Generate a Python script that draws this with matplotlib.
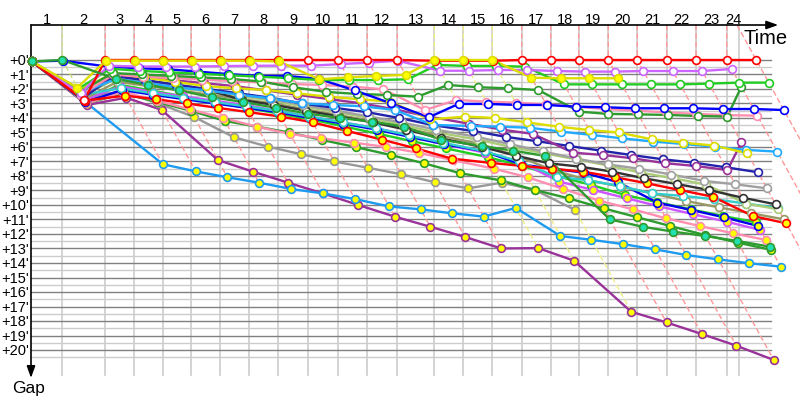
import numpy as np
import matplotlib
matplotlib.use("Agg")
import matplotlib.pyplot as plt

nan = np.nan

# ---------------- data ----------------
# leader's elapsed time at the end of each stage (index 0 = start), x units = minutes of gap
stage_time = [0, 3.91, 9.29, 12.91, 16.46, 20.04, 23.66, 27.29, 30.91, 34.66, 38.41,
              42.04, 45.79, 50.41, 54.04, 57.66, 61.34, 64.96, 68.46, 72.16, 75.79,
              79.46, 83.13, 86.96, 90.66]
grid_time = [3.91, 9.29, 12.91, 16.46, 20.04, 23.66, 27.29, 30.91, 34.66, 38.41,
             42.04, 45.79, 50.41, 54.04, 57.66, 61.34, 64.96, 68.46, 72.16, 75.79,
             79.46, 83.13, 86.96, 88.54]
stage_labels = [str(i) for i in range(1, 25)]
gap_labels = ["+%d'" % i for i in range(0, 21)]
# colour of the stage leader (guide line colour)
stage_leader = ['green'] + ['red'] * 11 + ['yellow'] * 3 + ['red'] * 9

# gap (minutes) of each rider after each stage
red     = [0.1, 2.76, 0, 0, 0, 0, 0, 0, 0, 0, 0, 0, 0, 0.05, 0.05, 0.05, 0, 0, 0, 0, 0, 0, 0, 0, 0]
yellow  = [0.1, 1.9, 0.05, 0.05, 0.05, 0.05, 0.05, 0.05, 0.1, 1.33, 1.2, 1.1, 1.03, 0, 0, 0,
           1.22, 1.26, 1.26, 1.26, nan, nan, nan, nan, nan]
violet  = [0.1, 2.3, 0.4, 0.45, 0.45, 0.45, 0.42, 0.4, 0.39, 0.39, 0.28, 0.18, 0.05, 0.74,
           0.74, 0.69, 0.69, 0.76, 0.8, 0.8, 0.76, 0.76, 0.76, 0.62, nan]
green   = [0.1, 2.0, 0.6, 0.75, 0.85, 0.95, 1.05, 1.15, 1.25, 1.38, 1.38, 1.38, 1.33, 0.34,
           0.41, 0.41, 0.46, 1.68, 1.68, 1.68, 1.68, 1.68, 1.63, 1.56, 1.56]
blue    = [0.1, 0.05, 0.46, 0.57, 0.64, 0.8, 0.97, 1.1, 1.1, 1.31, 2.1, 3.0, 3.95, 3.03, 3.03,
           3.1, 3.1, 3.22, 3.26, 3.33, 3.33, 3.33, 3.38, 3.38, 3.45]
dgreen  = [0.1, 2.2, 0.9, 1.0, 1.1, 1.2, 1.3, 1.49, 1.88, 2.2, 2.34, 2.41, 2.53, 1.72, 1.88,
           1.95, 2.07, 3.56, 3.72, 3.75, 3.79, 3.86, 3.9, 1.84, nan]
pink    = [0.1, 2.4, 1.0, 1.15, 1.25, 1.35, 1.45, 1.55, 1.66, 1.72, 1.84, 2.02, 3.45, 2.76,
           2.87, 2.94, 3.06, 3.22, 3.38, 3.5, 3.61, 3.72, 3.8, 3.84, nan]
yellow2 = [0.1, 2.1, 0.92, 1.2, 1.5, 1.8, 1.95, 2.07, 2.3, 2.53, 2.71, 2.87, 4.1, 3.9, 4.0,
           4.3, 4.6, 4.83, 5.0, 5.47, 5.7, 5.9, 6.43, nan, nan]
lblue   = [0.1, 2.3, 1.3, 1.6, 1.9, 2.1, 2.4, 2.64, 2.99, 3.1, 3.2, 3.45, 4.48, 4.55, 4.6,
           4.67, 4.94, 5.17, 5.4, 5.63, 5.79, 5.98, 6.2, 6.32, nan]
purple2 = [0.1, 2.5, 1.0, 1.2, 1.4, 1.6, 1.8, 2.1, 2.4, 2.7, 3.0, 3.4, 3.9, 4.4, 4.8, 5.1,
           6.39, 6.55, 6.78, 7.12, 7.31, 7.59, 5.68, nan, nan]
navy    = [0.1, 2.6, 1.1, 1.4, 1.7, 2.0, 2.3, 2.6, 3.0, 3.3, 3.6, 4.0, 4.5, 4.9, 5.3, 5.6,
           5.93, 6.25, 6.55, 6.85, 7.08, 7.4, 7.74, nan, nan]
gray    = [0.1, 2.5, 1.2, 1.5, 1.8, 2.1, 2.4, 2.7, 3.1, 3.5, 3.9, 4.3, 4.8, 5.3, 5.8, 6.3,
           6.8, 7.2, 7.5, 7.9, 8.34, 8.57, 8.85, nan, nan]
black   = [0.1, 2.6, 1.1, 1.4, 1.75, 2.07, 2.76, 3.1, 3.5, 3.9, 4.3, 4.8, 5.4, 6.0, 6.6,
           7.13, 7.36, 7.7, 8.16, 8.55, 8.97, 9.5, 9.95, nan, nan]
lolive  = [0.1, 2.5, 1.3, 1.6, 1.9, 2.2, 2.5, 2.8, 3.2, 3.6, 4.0, 4.5, 5.0, 5.5, 6.0, 6.43,
           6.85, 7.29, 7.77, 8.16, 8.6, 9.9, 10.3, nan, nan]
red_y   = [0.1, 2.8, 2.46, 2.7, 3.0, 3.3, 3.6, 3.9, 4.3, 4.9, 5.5, 6.1, 6.8, 7.1, 7.3, 7.5,
           7.7, 8.09, 8.5, 8.97, 9.43, 10.76, 11.26, nan, nan]
cyan    = [0.1, 2.4, 1.95, 2.3, 2.6, 2.9, 3.2, 3.5, 3.9, 4.3, 4.7, 5.2, 5.7, 6.3, 7.0, 8.05,
           8.3, 8.7, 9.2, 9.38, 9.6, 9.9, 10.2, nan, nan]
olive   = [0.1, 2.7, 1.5, 1.8, 2.1, 2.4, 2.7, 3.0, 3.4, 3.8, 4.2, 4.7, 5.2, 5.8, 6.6, 7.6,
           8.28, 8.74, 9.2, 9.72, 10.16, 10.57, 10.99, nan, nan]
blue_y  = [0.1, 2.9, 2.07, 2.4, 2.7, 3.0, 3.3, 3.6, 4.0, 4.4, 4.8, 5.3, 5.8, 6.3, 7.2, 7.5,
           7.77, 8.43, 9.84, 10.34, 10.85, 11.45, nan, nan, nan]
violet_y = [0.1, 2.8, 1.8, 2.2, 2.5, 2.8, 3.1, 3.5, 3.9, 4.3, 4.7, 5.2, 5.8, 6.4, 7.0, 8.39,
            8.97, 9.54, 10.1, 10.64, 11.15, 11.72, nan, nan, nan]
green_y = [0.1, 2.9, 1.7, 2.1, 2.5, 2.9, 3.3, 3.7, 4.1, 4.6, 5.1, 5.6, 6.1, 6.7, 7.3, 8.0,
           8.6, 9.31, 9.8, 10.3, 10.76, 11.2, nan, nan, nan]
pink_y  = [0.1, 3.0, 2.2, 2.8, 3.4, 4.0, 4.6, 5.1, 5.4, 5.7, 6.0, 6.4, 6.9, 7.5, 8.1, 8.9,
           9.7, 10.3, 10.92, 11.45, 11.95, 12.41, nan, nan, nan]
dgreen_c = [0.1, 0.0, 1.3, 1.72, 2.1, 2.57, 2.9, 3.3, 3.7, 4.0, 4.25, 4.6, 5.5, 5.93, 6.25,
            6.62, 10.99, 11.5, 11.84, 12.14, 12.48, 12.87, nan, nan, nan]
dgreen_y = [0.1, 3.0, 2.3, 2.9, 3.5, 4.2, 4.6, 5.0, 5.52, 6.02, 6.55, 7.13, 7.8, 8.3, 8.97,
            9.54, 10.23, 10.85, 11.45, 12.07, 12.6, 13.1, nan, nan, nan]
gray_y  = [0.1, 2.5, 2.2, 3.0, 3.93, 5.33, 5.98, 6.5, 7.0, 7.43, 7.88, 8.43, 8.85, 8.46, 8.97,
           10.34, nan, nan, nan, nan, nan, nan, nan, nan, nan]
lblue_y = [0.1, 2.9, 7.19, 7.68, 8.09, 8.46, 8.9, 9.2, 9.59, 10.1, 10.3, 10.57, 10.8, 10.2,
           12.14, 12.4, 12.7, 13.06, 13.45, 13.75, 14.02, 14.25, nan, nan, nan]
purple_y = [0.1, 3.1, 2.6, 3.45, 6.9, 7.7, 8.46, 9.2, 10.0, 10.8, 11.5, 12.2, 13.0, 12.97,
            13.84, 17.36, 18.1, 18.9, 19.7, 20.69, nan, nan, nan, nan, nan]

# (gaps, line colour, marker fill) in drawing order (first = bottom)
riders = [
    (purple_y, '#993399', '#FFFF00'), (lblue_y, '#1E9BF0', '#FFFF00'),
    (gray_y, '#999999', '#FFFF00'), (dgreen_y, '#2E9B2E', '#FFFF00'),
    (pink_y, '#FF8FB0', '#FFFF00'),
    (green_y, '#22CC22', '#FFFF00'), (violet_y, '#CC55FF', '#FFFF00'),
    (blue_y, '#0000EE', '#FFFF00'), (olive, '#999966', '#FFFFFF'),
    (cyan, '#33CCCC', '#FFFFFF'), (red_y, '#FF0000', '#FFFF00'),
    (lolive, '#AACC77', '#FFFFFF'), (black, '#333333', '#FFFFFF'),
    (gray, '#A0A0A0', '#FFFFFF'), (navy, '#2222AA', '#FFFFFF'),
    (purple2, '#993399', '#FFFFFF'), (lblue, '#22AAFF', '#FFFFFF'),
    (yellow2, '#DDDD00', '#FFFFFF'), (pink, '#FF8FB0', '#FFFFFF'),
    (dgreen, '#2E9B2E', '#FFFFFF'), (blue, '#0000FF', '#FFFFFF'),
    (green, '#22CC22', '#FFFFFF'), (violet, '#CC66FF', '#FFFFFF'),
    (red, '#FF0000', '#FFFFFF'), (yellow, '#DDDD00', '#FFFF00'),
    (dgreen_c, '#2E9B2E', '#22E0B0'),
]

guide_colors = {'red': '#FF9999', 'yellow': '#EEEE88', 'green': '#CCDD88'}

# ---------------- figure ----------------
fig = plt.figure(figsize=(8, 4), dpi=100)
ax = fig.add_axes([0, 0, 1, 1])
ax.set_xlim(-31 / 8, 769 / 8)
ax.set_ylim(340 / 14.5, -60 / 14.5)
ax.axis('off')

font = 'Liberation Sans'
top = -35 / 14.5          # top axis level
grid_right = 92.46
grid_bottom = 315 / 14.5

# horizontal grid
for m in range(0, 21):
    ax.plot([0, grid_right], [m + 0.5, m + 0.5], color='#CCCCCC', lw=1.0, zorder=1)
    ax.plot([0, grid_right], [m, m], color='#808080', lw=1.0, zorder=1.1)
# vertical grid
for gt in grid_time:
    ax.plot([gt, gt], [top, grid_bottom], color='#CCCCCC', lw=1.2, zorder=1)

# guide lines (same stage): vertical from the axis, then slanted through the gaps
max_gap = []
for s in range(1, 25):
    vals = [r[0][s] for r in riders if not np.isnan(r[0][s])]
    max_gap.append(max(vals))
for s in range(1, 25):
    T = stage_time[s]
    g_end = max_gap[s - 1] if s < 22 else 16
    c = guide_colors[stage_leader[s - 1]]
    if s < 24:
        xs, ys = [T, T, T + g_end], [top, 0, g_end]
    else:
        xs, ys = [T + top, T + g_end], [top, g_end]
    ax.plot(xs, ys, color=c, lw=1.0, ls=(0, (4, 2)), zorder=1.5)

# axes with arrows
ax.annotate('', xy=(93.4, top), xytext=(0, top),
            arrowprops=dict(arrowstyle='-|>,head_length=0.7,head_width=0.25', color='black', lw=1.2,
                            shrinkA=0, shrinkB=0), zorder=2)
ax.annotate('', xy=(0, 318 / 14.5), xytext=(0, top),
            arrowprops=dict(arrowstyle='-|>,head_length=0.7,head_width=0.25', color='black', lw=1.2,
                            shrinkA=0, shrinkB=0), zorder=2)

# stage labels
edges = [0] + grid_time
for i, lab in enumerate(stage_labels):
    ax.text((edges[i] + edges[i + 1]) / 2, top - 0.05, lab, ha='center', va='baseline',
            fontsize=10.5, family=font)
for m, lab in enumerate(gap_labels):
    ax.text(-0.25, m + 0.35, lab, ha='right', va='baseline', fontsize=10.5, family=font)
ax.text(89.0, -1.07, 'Time', ha='left', va='baseline', fontsize=14.5, family=font)
ax.text(-2.4, 22.94, 'Gap', ha='left', va='baseline', fontsize=12.5, family=font)

# riders
for k, (gaps, col, fill) in enumerate(riders):
    g = np.array(gaps, dtype=float)
    x = np.array(stage_time) + g
    ax.plot(x, g, color=col, lw=1.7, zorder=3 + 0.01 * k, solid_joinstyle='round')
for k, (gaps, col, fill) in enumerate(riders):
    g = np.array(gaps, dtype=float)
    x = np.array(stage_time) + g
    ax.plot(x, g, ls='none', marker='o', ms=5.6, mfc=fill, mec=col, mew=1.2,
            zorder=4 + 0.01 * k)

fig.savefig('out.png', dpi=100)
